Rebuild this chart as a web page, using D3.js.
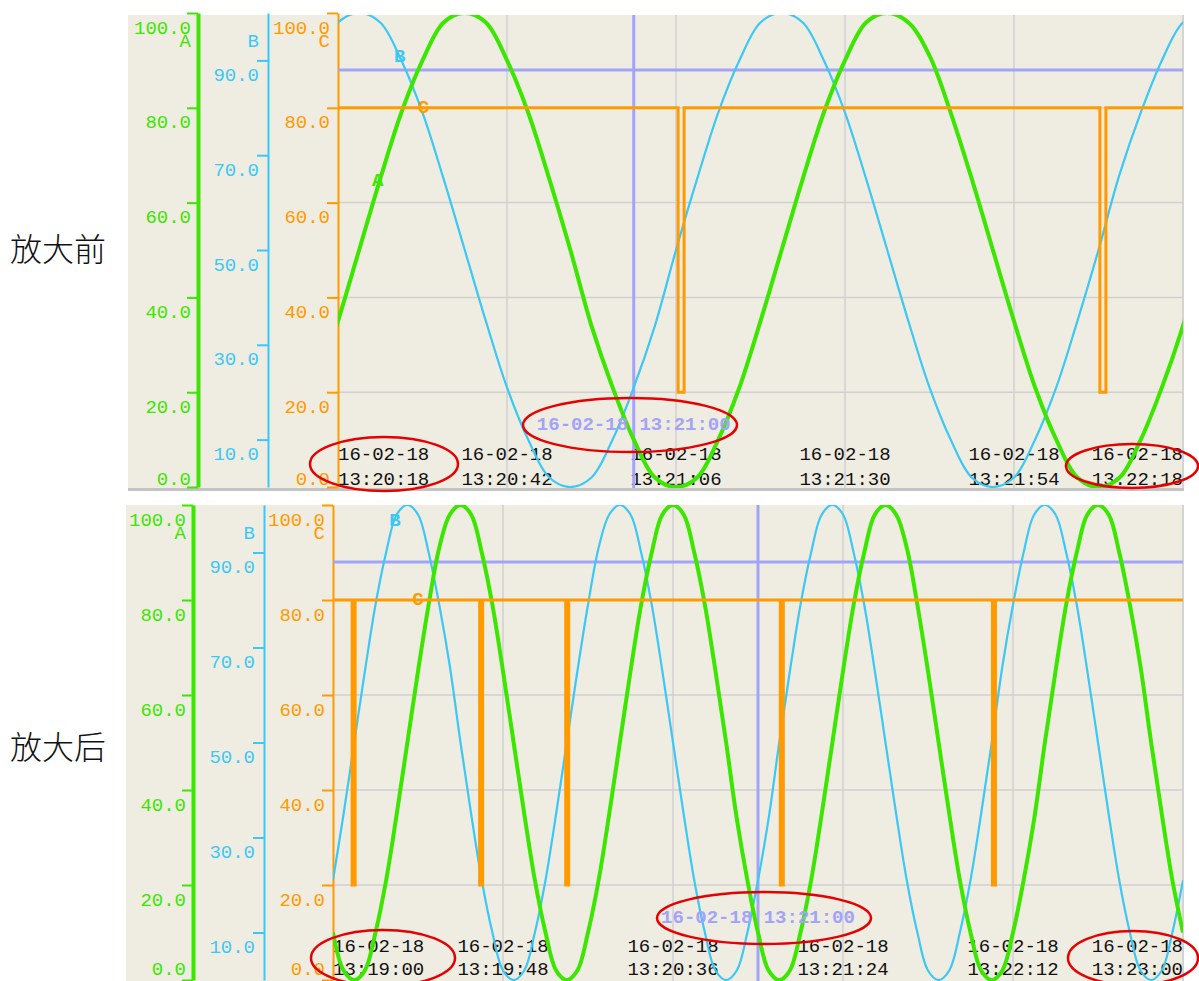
<!DOCTYPE html>
<html>
<head>
<meta charset="utf-8">
<script src="https://cdn.jsdelivr.net/npm/d3@7"></script>
<style>
body{margin:0;background:#fff}
svg{display:block}
</style>
</head>
<body>
<script>
// 采样: 16-02-18 13:19:00 起, 每 3 秒一个点 (0..240 s)
var sampleStart = "16-02-18 13:19:00";
var sampleStep = 3;

// 曲线 A (绿)
var seriesA = [
	10, 2, 0, 2, 10, 21, 35, 50, 65, 79, 91, 98, 100, 98, 90, 79, 65, 50, 35, 21,
	10, 2, 0, 2, 10, 21, 35, 50, 65, 79, 90, 98, 100, 98, 90, 79, 65, 50, 34, 21,
	10, 2, 0, 2, 10, 21, 35, 50, 65, 79, 90, 98, 100, 98, 91, 79, 65, 50, 35, 21,
	10, 2, 0, 2, 10, 21, 34, 50, 65, 79, 90, 98, 100, 98, 90, 79, 66, 50, 35, 21,
	10
];
// 曲线 B (蓝)
var seriesB = [
	21, 35, 50, 65, 79, 90, 98, 100, 98, 90, 79, 66, 50, 35, 21, 10, 2, 0, 2, 10,
	21, 35, 50, 65, 79, 91, 98, 100, 98, 90, 79, 65, 50, 35, 21, 10, 2, 0, 2, 10,
	21, 34, 50, 65, 79, 90, 98, 100, 98, 90, 79, 65, 50, 35, 21, 10, 2, 0, 2, 10,
	21, 35, 50, 66, 79, 90, 98, 100, 98, 90, 79, 65, 50, 35, 21, 10, 2, 0, 2, 10,
	21
];
// 曲线 C (橙): 阶跃, 时刻(秒) / 值
var stepTimes = [0, 5.4, 6.25, 41.4, 42.25, 65.7, 66.55, 126.3, 127.15, 186.2, 187.05, 240];
var stepC     = [80, 20, 80, 20, 80, 20, 80, 20, 80, 20, 80, 80];

// 纵轴刻度
var ticksA = [0, 20, 40, 60, 80, 100];
var ticksB = [10, 30, 50, 70, 90];
var ticksC = [0, 20, 40, 60, 80, 100];
var gridC  = [20, 40, 60, 80];

// 时间轴刻度
var topTicks    = ["13:20:18", "13:20:42", "13:21:06", "13:21:30", "13:21:54", "13:22:18"];
var bottomTicks = ["13:19:00", "13:19:48", "13:20:36", "13:21:24", "13:22:12", "13:23:00"];
var dateText = "16-02-18";

// 游标
var cursorTime = "13:21:00";
var cursorValue = 88;

// 颜色
var colA = "#3ce600", colB = "#3cc8f5", colC = "#ff9a00";
var colCursor = "#a3a3fa", colGrid = "#d0d0d0", colBg = "#efece1", colRing = "#e60000";
var monoFont = "'Liberation Mono', 'DejaVu Sans Mono', monospace";

var parse = d3.timeParse("%y-%m-%d %H:%M:%S");
var t0 = parse(sampleStart);
function secToDate(s){ return new Date(t0.getTime() + s * 1000); }
function hms(s){ return parse(dateText + " " + s); }

var dataA = seriesA.map(function(v, i){ return {t: secToDate(i * sampleStep), v: v}; });
var dataB = seriesB.map(function(v, i){ return {t: secToDate(i * sampleStep), v: v}; });
var dataC = stepC.map(function(v, i){ return {t: secToDate(stepTimes[i]), v: v}; });

// 两个面板的布局
var panels = [
	{
		name: "放大前", nameY: 247,
		bg: [128, 15, 1183, 488],
		axA: 198, axB: 268, axC: 338,
		x0: 338, x1: 1183, y0: 487, y1: 13,
		textDy: [-27, -2],
		from: topTicks[0], to: topTicks[topTicks.length - 1], ticks: topTicks,
		labels: [{s: "B", d: dataB, c: colB, f: 0.073}, {s: "C", d: dataC, c: colC, f: 0.101}, {s: "A", d: dataA, c: colA, f: 0.047}],
		rings: [[384, 464, 74, 27], [630, 425, 107, 27], [1132, 466, 66, 22]]
	},
	{
		name: "放大后", nameY: 745,
		bg: [126, 505, 1183, 981],
		axA: 193, axB: 264, axC: 333,
		x0: 333, x1: 1183, y0: 980, y1: 505,
		textDy: [-28, -5],
		from: bottomTicks[0], to: bottomTicks[bottomTicks.length - 1], ticks: bottomTicks,
		labels: [{s: "B", d: dataB, c: colB, f: 0.073}, {s: "C", d: dataC, c: colC, f: 0.100}],
		rings: [[383, 958, 72, 28], [764, 918, 107, 26], [1133, 958, 65, 27]]
	}
];

var svg = d3.select("body").append("svg")
	.attr("width", 1199)
	.attr("height", 981);

// 折线上某时刻的值 (线性/阶跃)
function valueAt(d, t, step){
	var i = d3.bisector(function(p){ return p.t; }).right(d, t) - 1;
	if(i < 0) return d[0].v;
	if(i >= d.length - 1 || step) return d[i].v;
	var a = d[i], b = d[i + 1];
	return a.v + (b.v - a.v) * (t - a.t) / (b.t - a.t);
}

panels.forEach(function(p, pi){
	var g = svg.append("g");

	// 左侧说明文字
	g.append("text")
		.attr("x", 10).attr("y", p.nameY)
		.attr("dominant-baseline", "central")
		.style("font-family", "'Noto Sans CJK SC', sans-serif")
		.style("font-size", "32px")
		.style("font-weight", "300")
		.style("fill", "#111")
		.text(p.name);

	// 背景
	g.append("rect")
		.attr("x", p.bg[0]).attr("y", p.bg[1])
		.attr("width", p.bg[2] - p.bg[0]).attr("height", p.bg[3] - p.bg[1])
		.attr("fill", colBg);
	g.append("line")
		.attr("x1", p.bg[2]).attr("x2", p.bg[2]).attr("y1", p.bg[1]).attr("y2", p.bg[3])
		.attr("stroke", "#d4d4d4").attr("stroke-width", 2);
	if(pi === 0){
		g.append("line")
			.attr("x1", p.bg[0]).attr("x2", p.bg[2] + 1).attr("y1", p.bg[3] + 1.5).attr("y2", p.bg[3] + 1.5)
			.attr("stroke", "#c4c4c4").attr("stroke-width", 3);
	}

	var x = d3.scaleTime().domain([hms(p.from), hms(p.to)]).range([p.x0, p.x1]);
	var y = d3.scaleLinear().domain([0, 100]).range([p.y0, p.y1]);

	// 网格
	g.selectAll(".hgrid").data(gridC).enter().append("line")
		.attr("x1", p.x0).attr("x2", p.x1)
		.attr("y1", function(d){ return y(d); }).attr("y2", function(d){ return y(d); })
		.attr("stroke", colGrid).attr("stroke-width", 1.5);
	g.selectAll(".vgrid").data(p.ticks.slice(1, -1)).enter().append("line")
		.attr("x1", function(d){ return x(hms(d)); }).attr("x2", function(d){ return x(hms(d)); })
		.attr("y1", p.bg[1]).attr("y2", p.bg[3])
		.attr("stroke", colGrid).attr("stroke-width", 1.5);

	// 三根纵轴
	var axes = [
		{ax: p.axA, ticks: ticksA, col: colA, w: 4, name: "A", dx: -7},
		{ax: p.axB, ticks: ticksB, col: colB, w: 2, name: "B", dx: -9},
		{ax: p.axC, ticks: ticksC, col: colC, w: 2, name: "C", dx: -8}
	];
	axes.forEach(function(a){
		var ag = g.append("g").attr("transform", "translate(" + a.ax + ",0)");
		ag.call(d3.axisLeft(y).tickValues(a.ticks).tickSize(11).tickSizeOuter(0).tickFormat(d3.format(".1f")));
		ag.select(".domain").attr("stroke", a.col).attr("stroke-width", a.w);
		ag.selectAll(".tick line").attr("stroke", a.col).attr("stroke-width", 2);
		ag.selectAll(".tick text")
			.attr("x", a.dx)
			.attr("dy", function(d){ return d === 0 ? (p.textDy[1] - 1) + "px" : "20px"; })
			.attr("fill", a.col)
			.style("font-family", monoFont)
			.style("font-size", "19px");
		ag.append("text")
			.attr("x", a.dx).attr("y", y(100) + 34)
			.attr("text-anchor", "end")
			.attr("fill", a.col)
			.style("font-family", monoFont)
			.style("font-size", "19px")
			.text(a.name);
	});

	// 时间标签
	var fmtD = d3.timeFormat("%y-%m-%d"), fmtT = d3.timeFormat("%H:%M:%S");
	var tl = g.selectAll(".tlab").data(p.ticks).enter().append("text")
		.attr("text-anchor", function(d, i){ return i === 0 ? "start" : (i === p.ticks.length - 1 ? "end" : "middle"); })
		.attr("fill", "#111")
		.style("font-family", monoFont)
		.style("font-size", "19px");
	tl.append("tspan")
		.attr("x", function(d){ return x(hms(d)); }).attr("y", p.y0 + p.textDy[0])
		.text(function(d){ return fmtD(hms(d)); });
	tl.append("tspan")
		.attr("x", function(d){ return x(hms(d)); }).attr("y", p.y0 + p.textDy[1])
		.text(function(d){ return fmtT(hms(d)); });

	// 曲线 (裁剪到绘图区)
	var clipId = "clip" + pi;
	svg.append("clipPath").attr("id", clipId).append("rect")
		.attr("x", p.x0).attr("y", p.bg[1])
		.attr("width", p.x1 - p.x0).attr("height", p.bg[3] - p.bg[1]);
	var plot = g.append("g").attr("clip-path", "url(#" + clipId + ")");

	// 游标
	plot.append("line")
		.attr("x1", x(hms(cursorTime))).attr("x2", x(hms(cursorTime)))
		.attr("y1", p.bg[1]).attr("y2", p.bg[3])
		.attr("stroke", colCursor).attr("stroke-width", 3);
	plot.append("line")
		.attr("x1", p.x0).attr("x2", p.x1)
		.attr("y1", y(cursorValue)).attr("y2", y(cursorValue))
		.attr("stroke", colCursor).attr("stroke-width", 3);

	var smooth = d3.line()
		.x(function(d){ return x(d.t); })
		.y(function(d){ return y(d.v); })
		.curve(d3.curveCatmullRom.alpha(0.5));
	var stepped = d3.line()
		.x(function(d){ return x(d.t); })
		.y(function(d){ return y(d.v); })
		.curve(d3.curveStepAfter);

	plot.append("path").datum(dataB)
		.attr("d", smooth).attr("fill", "none")
		.attr("stroke", colB).attr("stroke-width", 2.2);
	plot.append("path").datum(dataA)
		.attr("d", smooth).attr("fill", "none")
		.attr("stroke", colA).attr("stroke-width", 4);
	plot.append("path").datum(dataC)
		.attr("d", stepped).attr("fill", "none")
		.attr("stroke", colC).attr("stroke-width", 3);

	// 曲线名称
	p.labels.forEach(function(l){
		var t = x.invert(p.x0 + (p.x1 - p.x0) * l.f);
		plot.append("text")
			.attr("x", x(t)).attr("y", y(valueAt(l.d, t, l.s === "C")) - (l.s === "A" ? 6 : 0))
			.attr("text-anchor", "middle")
			.attr("dominant-baseline", "central")
			.attr("fill", l.c)
			.style("font-family", monoFont)
			.style("font-size", "19px")
			.style("font-weight", "bold")
			.text(l.s);
	});

	// 游标时间
	g.append("text")
		.attr("x", x(hms(cursorTime))).attr("y", p.y0 - 57)
		.attr("text-anchor", "middle")
		.attr("fill", colCursor)
		.style("font-family", monoFont)
		.style("font-size", "19px")
		.style("font-weight", "bold")
		.text(dateText + " " + cursorTime);

	// 红圈标注
	g.selectAll(".ring").data(p.rings).enter().append("ellipse")
		.attr("cx", function(d){ return d[0]; }).attr("cy", function(d){ return d[1]; })
		.attr("rx", function(d){ return d[2]; }).attr("ry", function(d){ return d[3]; })
		.attr("fill", "none")
		.attr("stroke", colRing).attr("stroke-width", 2.5);
});
</script>
</body>
</html>
